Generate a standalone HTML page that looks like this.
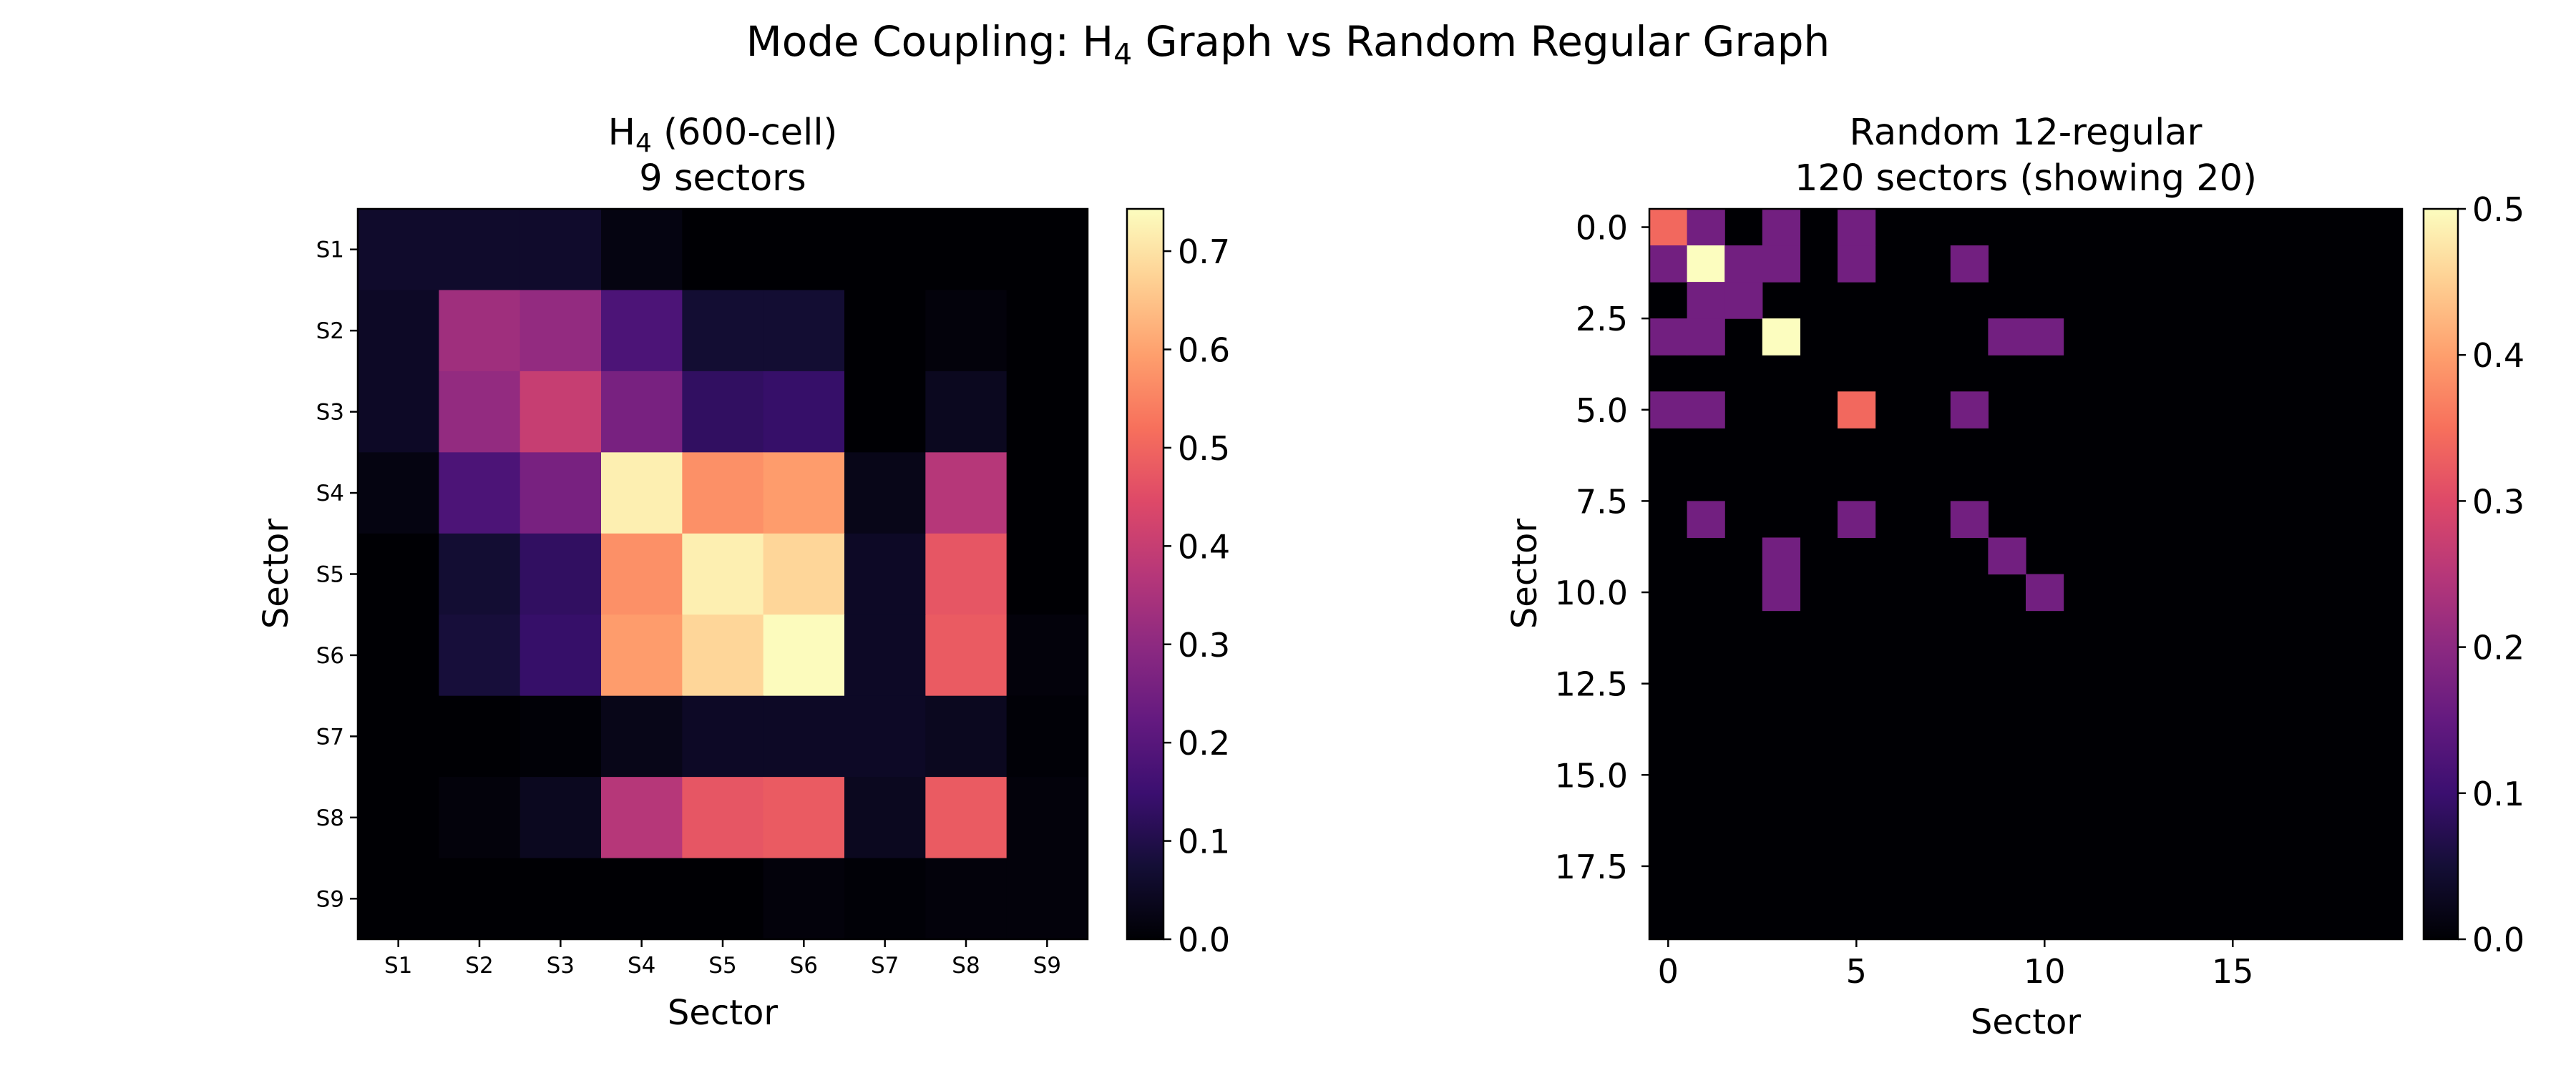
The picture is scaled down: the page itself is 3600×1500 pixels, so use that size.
<!DOCTYPE html>
<html><head><meta charset="utf-8"><style>
html,body{margin:0;padding:0;background:#fff;}
svg{display:block;font-family:"DejaVu Sans","Liberation Sans",sans-serif;}
</style></head><body>
<svg id="fig" width="3600" height="1500" viewBox="0 0 3600 1500" xmlns="http://www.w3.org/2000/svg">
<defs>
<linearGradient id="magmaGrad" x1="0" y1="1" x2="0" y2="0">
<stop offset="0" stop-color="#000004"/><stop offset="0.1" stop-color="#140e36"/><stop offset="0.2" stop-color="#3b0f70"/><stop offset="0.3" stop-color="#641a80"/><stop offset="0.4" stop-color="#8c2981"/><stop offset="0.5" stop-color="#b73779"/><stop offset="0.6" stop-color="#de4968"/><stop offset="0.7" stop-color="#f7705c"/><stop offset="0.8" stop-color="#fe9f6d"/><stop offset="0.9" stop-color="#fecf92"/><stop offset="1" stop-color="#fcfdbf"/>
</linearGradient>
</defs>
<text x="1800" y="78" font-size="58" text-anchor="middle">Mode Coupling: H<tspan font-size="41" dy="12">4</tspan><tspan dy="-12"> Graph vs Random Regular Graph</tspan></text>
<g id="left">
<text x="1010" y="202" font-size="51" text-anchor="middle">H<tspan font-size="36" dy="10">4</tspan><tspan dy="-10"> (600-cell)</tspan></text>
<text x="1010" y="266" font-size="51" text-anchor="middle">9 sectors</text>
<g id="leftCells"></g>
<rect x="500" y="292" width="1020" height="1021" fill="none" stroke="#000" stroke-width="2.5"/>
<g id="leftTicks"></g>
<text x="1010" y="1432" font-size="48" text-anchor="middle">Sector</text>
<text transform="translate(402,802) rotate(-90)" font-size="48" text-anchor="middle">Sector</text>
<rect x="1575" y="292" width="51" height="1021" fill="url(#magmaGrad)" stroke="#000" stroke-width="2.5"/>
<g id="leftCbTicks"></g>
</g>
<g id="right">
<text x="2831" y="202" font-size="51" text-anchor="middle">Random 12-regular</text>
<text x="2831" y="266" font-size="51" text-anchor="middle">120 sectors (showing 20)</text>
<g id="rightCells"></g>
<rect x="2305" y="292" width="1052" height="1021" fill="none" stroke="#000" stroke-width="2.5"/>
<g id="rightTicks"></g>
<text x="2831" y="1445" font-size="48" text-anchor="middle">Sector</text>
<text transform="translate(2147,802) rotate(-90)" font-size="48" text-anchor="middle">Sector</text>
<rect x="3387" y="292" width="48" height="1021" fill="url(#magmaGrad)" stroke="#000" stroke-width="2.5"/>
<g id="rightCbTicks"></g>
</g>
</svg>
<script>
var h4Labels = ["S1","S2","S3","S4","S5","S6","S7","S8","S9"];
var h4Values = [
[0.06,0.06,0.06,0.02,0,0,0,0,0],
[0.05,0.33,0.31,0.18,0.07,0.07,0,0.01,0],
[0.05,0.31,0.40,0.26,0.13,0.14,0,0.04,0],
[0.02,0.18,0.26,0.72,0.57,0.59,0.03,0.37,0],
[0,0.07,0.13,0.57,0.72,0.68,0.05,0.47,0],
[0,0.08,0.14,0.59,0.68,0.74,0.05,0.48,0.01],
[0,0,0.005,0.03,0.05,0.05,0.05,0.04,0.005],
[0,0.01,0.04,0.37,0.47,0.48,0.04,0.48,0.01],
[0,0,0,0,0,0.01,0.005,0.01,0.01]
];
var h4Vmax = 0.743;
var h4CbTicks = [0,0.1,0.2,0.3,0.4,0.5,0.6,0.7];
var h4CbLabels = ["0.0","0.1","0.2","0.3","0.4","0.5","0.6","0.7"];

var rrSize = 20;
var rrRows = [0,0,0,0, 1,1,1,1,1,1, 2,2, 3,3,3,3,3, 5,5,5,5, 8,8,8, 9,9, 10,10];
var rrCols = [0,1,3,5, 0,1,2,3,5,8, 1,2, 0,1,3,9,10, 0,1,5,8, 1,5,8, 3,9, 3,10];
var rrVals = [0.34,0.167,0.167,0.167, 0.167,0.5,0.167,0.167,0.167,0.167, 0.167,0.167, 0.167,0.167,0.5,0.167,0.167, 0.167,0.167,0.34,0.167, 0.167,0.167,0.167, 0.167,0.167, 0.167,0.167];
var rrVmax = 0.5;
var rrXTicks = [0,5,10,15];
var rrYTicks = [0,2.5,5,7.5,10,12.5,15,17.5];
var rrYLabels = ["0.0","2.5","5.0","7.5","10.0","12.5","15.0","17.5"];
var rrCbTicks = [0,0.1,0.2,0.3,0.4,0.5];
var rrCbLabels = ["0.0","0.1","0.2","0.3","0.4","0.5"];

var NS = "http://www.w3.org/2000/svg";
var magma = [[0,0,4],[20,14,54],[59,15,112],[100,26,128],[140,41,129],[183,55,121],[222,73,104],[247,112,92],[254,159,109],[254,207,146],[252,253,191]];
function cmap(t){
  t = Math.max(0, Math.min(1, t));
  var p = t*10, i = Math.min(9, Math.floor(p)), f = p - i;
  var a = magma[i], b = magma[i+1];
  return "rgb(" + [0,1,2].map(function(k){return Math.round(a[k]+(b[k]-a[k])*f);}).join(",") + ")";
}
function mk(tag, attrs, parent){
  var e = document.createElementNS(NS, tag);
  for (var k in attrs) e.setAttribute(k, attrs[k]);
  parent.appendChild(e);
  return e;
}
var L = {x0:500, y0:292, w:1020, h:1021, n:9};
function lx(i){ return L.x0 + (i+0.5)*L.w/L.n; }
function ly(i){ return L.y0 + (i+0.5)*L.h/L.n; }
var lc = document.getElementById("leftCells");
for (var r=0;r<9;r++) for (var c=0;c<9;c++){
  var cw = L.w/L.n, ch = L.h/L.n;
  var rc = mk("rect",{x:lx(c)-cw/2,y:ly(r)-ch/2,width:cw+0.6,height:ch+0.6,fill:cmap(h4Values[r][c]/h4Vmax)},lc);
  
  
}
var lt = document.getElementById("leftTicks");
for (var i=0;i<9;i++){
  mk("line",{x1:lx(i),x2:lx(i),y1:1313,y2:1324,stroke:"#000","stroke-width":2.5},lt);
  var tx = mk("text",{x:lx(i),y:1360,"font-size":31,"text-anchor":"middle"},lt);
  tx.textContent = h4Labels[i];
  
  
  mk("line",{x1:489,x2:500,y1:ly(i),y2:ly(i),stroke:"#000","stroke-width":2.5},lt);
  var ty = mk("text",{x:481,y:ly(i)+11,"font-size":31,"text-anchor":"end"},lt);
  ty.textContent = h4Labels[i];
  
  
}
function cbar(g, x, y0, h, vmax, ticks, labels, nm){
  for (var i=0;i<ticks.length;i++){
    var yy = y0 + h - ticks[i]/vmax*h;
    mk("line",{x1:x,x2:x+11,y1:yy,y2:yy,stroke:"#000","stroke-width":2.5},g);
    var t = mk("text",{x:x+20,y:yy+17,"font-size":46},g);
    t.textContent = labels[i];
    
    
  }
}
cbar(document.getElementById("leftCbTicks"),1626,292,1021,h4Vmax,h4CbTicks,h4CbLabels,"h4-colorbar-tick-label");
var R = {x0:2305, y0:292, w:1052, h:1021, n:rrSize};
function rx(v){ return R.x0 + (v+0.5)*R.w/R.n; }
function ry(v){ return R.y0 + (v+0.5)*R.h/R.n; }
var rcg = document.getElementById("rightCells");
var bg = mk("rect",{x:R.x0,y:R.y0,width:R.w,height:R.h,fill:cmap(0)},rcg);


for (var k=0;k<rrVals.length;k++){
  var cw2 = R.w/R.n, ch2 = R.h/R.n;
  var cell = mk("rect",{x:rx(rrCols[k])-cw2/2,y:ry(rrRows[k])-ch2/2,width:cw2+0.6,height:ch2+0.6,fill:cmap(rrVals[k]/rrVmax)},rcg);
  
  
}
var rt = document.getElementById("rightTicks");
rrXTicks.forEach(function(v){
  mk("line",{x1:rx(v),x2:rx(v),y1:1313,y2:1324,stroke:"#000","stroke-width":2.5},rt);
  var t = mk("text",{x:rx(v),y:1374,"font-size":46,"text-anchor":"middle"},rt);
  t.textContent = String(v);
  
  
});
rrYTicks.forEach(function(v,i){
  mk("line",{x1:2294,x2:2305,y1:ry(v),y2:ry(v),stroke:"#000","stroke-width":2.5},rt);
  var t = mk("text",{x:2275,y:ry(v)+17,"font-size":46,"text-anchor":"end"},rt);
  t.textContent = rrYLabels[i];
  
  
});
cbar(document.getElementById("rightCbTicks"),3435,292,1021,rrVmax,rrCbTicks,rrCbLabels,"random-colorbar-tick-label");
</script>
</body></html>
